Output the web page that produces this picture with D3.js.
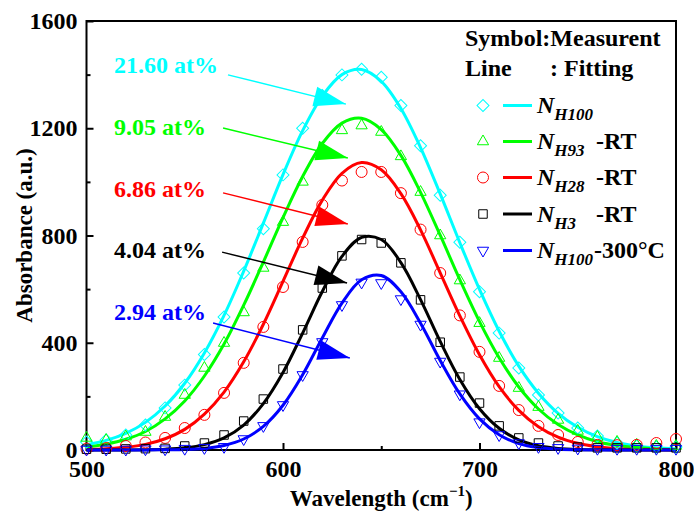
<!DOCTYPE html>
<html>
<head>
<meta charset="utf-8">
<script src="https://cdn.jsdelivr.net/npm/d3@7"></script>
<style>
  body { margin: 0; background: #fff; }
  text { font-family: "Liberation Serif", "Times New Roman", serif; font-weight: bold; }
</style>
</head>
<body>
<svg id="chart" width="694" height="518"></svg>
<script>

// DATA
var wavelength = [500,510,520,530,540,550,560,570,580,590,600,610,620,630,640,650,
                  660,670,680,690,700,710,720,730,740,750,760,770,780,790,800];

// measured points (symbols)
var measH100 = [30,37,56,93,157,242,356,496,660,825,1026,1200,1322,1399,1420,1390,
                1285,1135,950,775,590,436,306,205,138,82,52,26,15,11,11];
var measH93 = [45,37,50,67,123,205,306,399,513,679,850,1000,1126,1192,1210,1186,
               1095,962,800,632,473,343,231,160,112,71,48,30,19,15,15];
var measH28 = [5,7,15,28,45,82,131,213,325,459,608,776,914,1005,1037,1037,
               958,822,660,502,366,239,149,90,56,30,19,18,19,26,41];
var measH3 = [3,3,4,5,6,15,26,56,108,190,302,448,604,724,785,772,
              698,560,402,272,175,90,45,26,15,11,8,8,8,8,8];
var measH100_300 = [2,2,2,3,3,5,8,12,41,90,168,280,403,541,625,623,
                    563,468,330,208,104,56,26,12,8,6,5,5,5,5,5];

// fitting lines
var fitH100 = [20,36,62,103,164,249,362,502,667,846,1027,1191,1320,1400,1419,1375,
               1274,1128,955,773,599,443,313,212,137,85,50,28,15,8,4];
var fitH93 = [11,22,40,69,116,183,276,395,540,701,867,1020,1143,1219,1237,1195,
              1099,961,801,635,479,344,235,153,95,56,31,17,9,4,2];
var fitH28 = [2,5,10,21,42,77,134,216,329,469,629,790,932,1032,1072,1045,
              956,821,661,500,355,236,148,87,48,25,12,5,2,1,0];
var fitH3 = [0,0,0,1,3,8,20,45,93,173,289,436,591,722,793,785,
             699,561,405,263,154,81,38,16,6,2,1,0,0,0,0];
var fitH100_300 = [0,0,0,0,1,2,6,17,41,88,167,281,418,548,635,651,
                   590,473,334,209,116,57,24,9,3,1,0,0,0,0,0];

var seriesSub = ["H100","H93","H28","H3","H100"];
var seriesSuffix = ["","-RT","-RT","-RT","-300\u00B0C"];
var annoLabels = ["21.60 at%","9.05 at%","6.86 at%","4.04 at%","2.94 at%"];

var xTicks = [500,600,700,800];
var yTicks = [0,400,800,1200,1600];

// LOOK
var colors = ["#00ffff","#00ff00","#ff0000","#000000","#0000ff"];
var symbolKind = ["diamond","up","circle","square","down"];

// plot box (no "top" as var name: window.top is read only)
var plotL = 86.5, plotR = 676, plotT = 21, plotB = 450;
var fontSize = 24;

// annotation places, in data units (x label, y baseline, arrow start, arrow tip)
var annoTextX = 514;
var annoTextY = [1406,1175,944,716,485];
var arrowFrom = [[572,1399],[569.5,1201],[569.5,959],[569,738],[564.4,474]];
var arrowTo = [[632,1290],[633,1089],[633,843],[632.6,623],[634,343]];

var svg = d3.select("#chart");

var x = d3.scaleLinear().domain([500,800]).range([plotL,plotR]);
var y = d3.scaleLinear().domain([0,1600]).range([plotB,plotT]);

// symbol path generator, Origin style markers
function symbolPath(kind){
    if(kind == "diamond") return d3.symbol(d3.symbolSquare, 72)();
    if(kind == "circle") return d3.symbol(d3.symbolCircle, 95)();
    if(kind == "square") return d3.symbol(d3.symbolSquare, 72)();
    return d3.symbol(d3.symbolTriangle, 55)();
}
function symbolRotate(kind){
    if(kind == "diamond") return 45;
    if(kind == "down") return 180;
    return 0;
}

// AXES (ticks pointing inside)
var xAxis = d3.axisBottom(x).tickValues(xTicks).tickSize(-7).tickPadding(10).tickFormat(d3.format("d"));
var xMinor = d3.axisBottom(x).tickValues([550,650,750]).tickSize(-4).tickFormat("");
var yAxis = d3.axisLeft(y).tickValues(yTicks).tickSize(-7).tickPadding(9).tickFormat(d3.format("d"));
var yMinor = d3.axisLeft(y).tickValues([200,600,1000,1400]).tickSize(-4).tickFormat("");

function styleAxis(g){
    g.select(".domain").remove();
    g.selectAll("line").attr("stroke","#000").attr("stroke-width",2);
    g.selectAll("text").attr("font-size",fontSize).attr("fill","#000")
        .style("font-family","'Liberation Serif', serif").style("font-weight","bold");
}

svg.append("g").attr("transform","translate(0," + plotB + ")").call(xAxis).call(styleAxis);
svg.append("g").attr("transform","translate(0," + plotB + ")").call(xMinor).call(styleAxis);
svg.append("g").attr("transform","translate(" + plotL + ",0)").call(yAxis).call(styleAxis);
svg.append("g").attr("transform","translate(" + plotL + ",0)").call(yMinor).call(styleAxis);

// frame
svg.append("rect")
    .attr("x",plotL).attr("y",plotT)
    .attr("width",plotR-plotL).attr("height",plotB-plotT)
    .attr("fill","none").attr("stroke","#000").attr("stroke-width",2);

// axis titles
svg.append("text")
    .attr("transform","translate(32," + ((plotT+plotB)/2) + ") rotate(-90)")
    .attr("text-anchor","middle")
    .attr("font-size",23)
    .text("Absorbance (a.u.)");

var xt = svg.append("text")
    .attr("x",(plotL+plotR)/2).attr("y",506)
    .attr("text-anchor","middle")
    .attr("font-size",23);
xt.append("tspan").text("Wavelength (cm");
xt.append("tspan").attr("font-size",15).attr("dy",-10).text("\u22121");
xt.append("tspan").attr("dy",10).text(")");

// FIT LINES and MEASURED SYMBOLS
var fits = [fitH100,fitH93,fitH28,fitH3,fitH100_300];
var meas = [measH100,measH93,measH28,measH3,measH100_300];

var line = d3.line()
    .x(function(d,i){ return x(wavelength[i]); })
    .y(function(d){ return y(d); })
    .curve(d3.curveCatmullRom);

fits.forEach(function(f,k){
    svg.append("path")
        .attr("d",line(f))
        .attr("fill","none")
        .attr("stroke",colors[k])
        .attr("stroke-width",3);
});

meas.forEach(function(m,k){
    svg.append("g").selectAll("path")
        .data(m)
        .enter()
        .append("path")
        .attr("d",symbolPath(symbolKind[k]))
        .attr("transform",function(d,i){
            return "translate(" + x(wavelength[i]) + "," + y(d) + ") rotate(" + symbolRotate(symbolKind[k]) + ")";
        })
        .attr("fill","none")
        .attr("stroke",colors[k])
        .attr("stroke-width",1);
});

// ANNOTATIONS with arrows
function arrowHead(p0,p1,len,half){
    var dx = p1[0]-p0[0], dy = p1[1]-p0[1];
    var l = Math.sqrt(dx*dx+dy*dy);
    var ux = dx/l, uy = dy/l;
    var bx = p1[0]-ux*len, by = p1[1]-uy*len;
    return "M" + p1[0] + "," + p1[1] +
           "L" + (bx - uy*half) + "," + (by + ux*half) +
           "L" + (bx + uy*half) + "," + (by - ux*half) + "Z";
}

annoLabels.forEach(function(lab,k){
    svg.append("text")
        .attr("x",x(annoTextX)).attr("y",y(annoTextY[k]))
        .attr("font-size",fontSize)
        .attr("fill",colors[k])
        .text(lab);
    var p0 = [x(arrowFrom[k][0]),y(arrowFrom[k][1])];
    var p1 = [x(arrowTo[k][0]),y(arrowTo[k][1])];
    svg.append("line")
        .attr("x1",p0[0]).attr("y1",p0[1])
        .attr("x2",p1[0]).attr("y2",p1[1])
        .attr("stroke",colors[k]).attr("stroke-width",1.5);
    svg.append("path")
        .attr("d",arrowHead(p0,p1,32,10))
        .attr("fill",colors[k]);
});

// LEGEND
svg.append("text").attr("x",465).attr("y",46).attr("font-size",fontSize).text("Symbol:Measurent");
svg.append("text").attr("x",465).attr("y",76).attr("font-size",fontSize).text("Line");
svg.append("text").attr("x",550).attr("y",76).attr("font-size",fontSize).text(": Fitting");

var legendRowY = [105.5,141.5,177.5,214,250.5];
seriesSub.forEach(function(sub,k){
    var ly = legendRowY[k];
    svg.append("path")
        .attr("d",symbolPath(symbolKind[k]))
        .attr("transform","translate(483," + ly + ") rotate(" + symbolRotate(symbolKind[k]) + ")")
        .attr("fill","none").attr("stroke",colors[k]).attr("stroke-width",1);
    svg.append("line")
        .attr("x1",503).attr("x2",532).attr("y1",ly).attr("y2",ly)
        .attr("stroke",colors[k]).attr("stroke-width",3);
    var t = svg.append("text").attr("x",537).attr("y",ly+7.5).attr("font-size",fontSize);
    t.append("tspan").attr("font-style","italic").text("N");
    t.append("tspan").attr("font-style","italic").attr("font-size",17).attr("dy",7).text(sub);
    if(seriesSuffix[k] != ""){
        svg.append("text").attr("x",k == 4 ? 594 : 596).attr("y",ly+7.5)
            .attr("font-size",fontSize).text(seriesSuffix[k]);
    }
});

</script>
</body>
</html>
